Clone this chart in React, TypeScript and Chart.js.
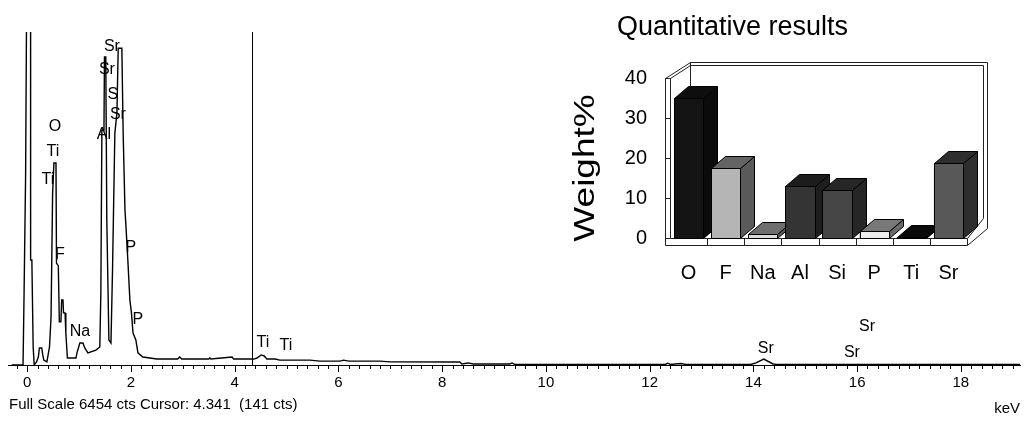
import { useEffect, useRef } from 'react';
import { Chart, registerables } from 'chart.js';

Chart.register(...registerables);

const FONT = '"Liberation Sans", Arial, sans-serif';

// ---- EDS spectrum ----
const FULL_SCALE = 6454;
const CURSOR_KEV = 4.341;
const CURSOR_CTS = 141;
const ENERGY_MIN = -0.37;
const ENERGY_MAX = 19.14;

// channel energies (keV) and counts of the traced spectrum
const spectrumKeV = [
  -0.3, -0.08, -0.06, -0.03, 0.0, 0.065, 0.066, 0.09, 0.115, 0.135,
  0.18, 0.215, 0.235, 0.28, 0.3, 0.32, 0.38, 0.43, 0.46, 0.49,
  0.515, 0.555, 0.565, 0.6, 0.62, 0.65, 0.665, 0.69, 0.7, 0.73,
  0.745, 0.775, 0.94, 0.96, 1.015, 1.075, 1.11, 1.17, 1.325, 1.4,
  1.42, 1.44, 1.48, 1.49, 1.515, 1.535, 1.575, 1.615, 1.645, 1.69,
  1.73, 1.755, 1.825, 1.85, 1.885, 1.905, 1.94, 1.98, 2.01, 2.04,
  2.095, 2.135, 2.23, 2.5, 2.9, 2.94, 2.98, 3.5, 3.52, 3.54,
  3.95, 3.98, 4.37, 4.43, 4.51, 4.57, 4.62, 4.78, 4.87, 5.45,
  5.64, 6.03, 6.1, 6.2, 6.8, 7.0, 8.34, 8.38, 8.5, 8.6,
  9.3, 9.35, 9.4, 12.3, 12.35, 12.4, 12.6, 12.7, 13.95, 14.05,
  14.2, 14.38, 14.45, 19.14,
];
const spectrumCounts = [
  0, 0, 1395, 3720, 9000, 9000, 2035, 2035, 350, 0,
  60, 155, 330, 330, 195, 95, 60, 350, 930, 3330,
  3915, 3915, 1975, 1920, 835, 835, 1260, 1260, 1010, 1010,
  620, 135, 135, 235, 425, 425, 330, 235, 290, 350,
  1395, 4555, 4555, 5970, 5970, 2810, 485, 425, 1840, 4495,
  4885, 6140, 6140, 4495, 3005, 2675, 2035, 1260, 1010, 620,
  485, 235, 155, 115, 115, 155, 115, 115, 140, 115,
  155, 115, 115, 135, 195, 175, 115, 115, 95, 95,
  75, 75, 95, 75, 75, 60, 58, 20, 40, 20,
  20, 40, 10, 10, 35, 10, 30, 10, 10, 40,
  115, 20, 10, 10,
];

// element markers on the spectrum
const peakNames = ['Sr', 'Sr', 'S', 'Sr', 'Al', 'O', 'Ti', 'Ti', 'F', 'P', 'Na', 'P', 'Ti', 'Ti', 'Sr', 'Sr', 'Sr'];
const peakKeV = [1.633, 1.537, 1.652, 1.749, 1.479, 0.534, 0.495, 0.399, 0.63, 2.0, 1.016, 2.134, 4.544, 4.987, 14.24, 15.9, 16.19];
const peakCounts = [6163, 5718, 5233, 4845, 4458, 4613, 4128, 3586, 2132, 2268, 640, 872, 426, 368, 310, 233, 737];

// energy axis: minor marks every 0.2 keV, labelled every 2 keV
const energyTicks = Array.from({ length: 97 }, (_, i) => (i - 1) * 2 / 10);
const isLabelledEnergy = (v: number) => Math.abs(v / 2 - Math.round(v / 2)) < 1e-6;

// ---- quantitative results ----
const elements = ['O', 'F', 'Na', 'Al', 'Si', 'P', 'Ti', 'Sr'];
const weightPercent = [34.9, 17.6, 0.9, 13.0, 12.0, 1.7, 0.3, 18.7];
const frontColors = ['#141414', '#b5b5b5', '#dcdcdc', '#343434', '#464646', '#ececec', '#000000', '#585858'];
const topColors = ['#0e0e0e', '#646464', '#6e6e6e', '#1c1c1c', '#262626', '#787878', '#0a0a0a', '#2e2e2e'];
const sideColors = ['#0b0b0b', '#5a5a5a', '#5a5a5a', '#1e1e1e', '#262626', '#6a6a6a', '#050505', '#2e2e2e'];
const weightTicks = [0, 10, 20, 30, 40];

const INSET_LEFT = 560;
const INSET_W = 471;
const INSET_H = 300;
const BOX_DEPTH = { dx: 20, dy: -16 };
const BAR_DEPTH = { dx: 14, dy: -12 };

const spectrumDecor = {
  id: 'spectrumDecor',
  afterDraw(chart: any) {
    const { ctx, chartArea: ca } = chart;
    const x = chart.scales.x;
    const y = chart.scales.y;
    ctx.save();
    ctx.strokeStyle = '#000';
    ctx.lineWidth = 1;
    for (const t of x.ticks) {
      const px = Math.round(x.getPixelForValue(t.value)) + 0.5;
      const len = isLabelledEnergy(t.value) ? 7 : 4;
      ctx.beginPath();
      ctx.moveTo(px, ca.bottom);
      ctx.lineTo(px, ca.bottom + len);
      ctx.stroke();
    }
    const cx = Math.round(x.getPixelForValue(CURSOR_KEV)) + 0.5;
    ctx.beginPath();
    ctx.moveTo(cx, ca.top);
    ctx.lineTo(cx, ca.bottom);
    ctx.stroke();

    ctx.fillStyle = '#000';
    ctx.font = `16px ${FONT}`;
    ctx.textAlign = 'center';
    ctx.textBaseline = 'middle';
    peakNames.forEach((n, i) => {
      ctx.fillText(n, x.getPixelForValue(peakKeV[i]), y.getPixelForValue(peakCounts[i]));
    });

    ctx.font = `15px ${FONT}`;
    ctx.textAlign = 'left';
    ctx.fillText(`Full Scale ${FULL_SCALE} cts Cursor: ${CURSOR_KEV.toFixed(3)}  (${CURSOR_CTS} cts)`, 9, 405);
    ctx.textAlign = 'right';
    ctx.fillText('keV', 1020, 409);
    ctx.restore();
  },
};

function poly(ctx: CanvasRenderingContext2D, pts: number[][], fill: string | null) {
  ctx.beginPath();
  ctx.moveTo(pts[0][0], pts[0][1]);
  for (let i = 1; i < pts.length; i++) ctx.lineTo(pts[i][0], pts[i][1]);
  ctx.closePath();
  if (fill) {
    ctx.fillStyle = fill;
    ctx.fill();
  }
  ctx.stroke();
}

function line(ctx: CanvasRenderingContext2D, x1: number, y1: number, x2: number, y2: number) {
  ctx.beginPath();
  ctx.moveTo(x1, y1);
  ctx.lineTo(x2, y2);
  ctx.stroke();
}

const quantBox = {
  id: 'quantBox',
  beforeDatasetsDraw(chart: any) {
    const { ctx, chartArea: ca } = chart;
    const y = chart.scales.y;
    const L = Math.round(ca.left) + 0.5;
    const R = Math.round(ca.right) + 0.5;
    const T = Math.round(ca.top) + 0.5;
    const B = Math.round(ca.bottom) + 0.5;
    const { dx, dy } = BOX_DEPTH;
    const plank = 7;
    ctx.save();
    ctx.strokeStyle = '#222';
    ctx.lineWidth = 1;
    // back wall (double edge)
    line(ctx, L + dx, T + dy, R + dx, T + dy);
    line(ctx, L + dx, T + dy + 3, R + dx - 4, T + dy + 3);
    line(ctx, R + dx, T + dy, R + dx, B + dy + plank - 1);
    line(ctx, R + dx - 4, T + dy + 3, R + dx - 4, B + dy - 4);
    line(ctx, L + dx, T + dy, L + dx, B + dy);
    // left wall
    line(ctx, L - 5, T, L - 5, B + plank);
    line(ctx, L, T, L, B);
    line(ctx, L - 5, T, L, T);
    line(ctx, L - 5, T, L + dx, T + dy);
    line(ctx, L, T, L + dx, T + dy + 3);
    for (const v of weightTicks) {
      const py = Math.round(y.getPixelForValue(v)) + 0.5;
      line(ctx, L - 5, py, L, py);
    }
    // floor plank
    line(ctx, L, B, R, B);
    line(ctx, L - 5, B + plank, R, B + plank);
    const n = elements.length;
    for (let i = 1; i <= n; i++) {
      const px = Math.round(ca.left + ((ca.right - ca.left) * i) / n) + 0.5;
      line(ctx, px, B, px, B + plank);
    }
    line(ctx, R, B, R + dx - 4, B + dy - 4);
    line(ctx, R, B + plank, R + dx, B + dy + plank - 1);
    ctx.restore();
  },
  afterDatasetsDraw(chart: any) {
    const { ctx } = chart;
    const meta = chart.getDatasetMeta(0);
    const { dx, dy } = BAR_DEPTH;
    ctx.save();
    ctx.strokeStyle = '#000';
    ctx.lineWidth = 1;
    meta.data.forEach((bar: any, i: number) => {
      const p = bar.getProps(['x', 'y', 'base', 'width'], true);
      const l = Math.round(p.x - p.width / 2) + 0.5;
      const r = Math.round(p.x + p.width / 2) + 0.5;
      const t = Math.round(p.y) + 0.5;
      const b = Math.round(p.base) + 0.5;
      poly(ctx, [[r, t], [r + dx, t + dy], [r + dx, b + dy], [r, b]], sideColors[i]);
      poly(ctx, [[l, t], [r, t], [r + dx, t + dy], [l + dx, t + dy]], topColors[i]);
      poly(ctx, [[l, t], [r, t], [r, b], [l, b]], frontColors[i]);
    });
    ctx.restore();
  },
  afterDraw(chart: any) {
    const { ctx } = chart;
    ctx.save();
    ctx.fillStyle = '#000';
    ctx.textAlign = 'center';
    ctx.textBaseline = 'alphabetic';
    ctx.font = `27px ${FONT}`;
    ctx.fillText('Quantitative results', 732.5 - INSET_LEFT, 35);
    ctx.translate(586 - INSET_LEFT, 168);
    ctx.rotate(-Math.PI / 2);
    ctx.scale(1, 0.8);
    ctx.textBaseline = 'middle';
    ctx.font = `37px ${FONT}`;
    ctx.fillText('Weight%', 0, 0);
    ctx.restore();
  },
};

export default function App() {
  const specRef = useRef<HTMLCanvasElement>(null);
  const quantRef = useRef<HTMLCanvasElement>(null);

  useEffect(() => {
    const spectrum = new Chart(specRef.current!, {
      type: 'line',
      data: {
        datasets: [
          {
            data: spectrumKeV.map((k, i) => ({ x: k, y: spectrumCounts[i] })),
            borderColor: '#000',
            borderWidth: 1.4,
            pointRadius: 0,
            tension: 0,
            fill: false,
          },
        ],
      },
      options: {
        animation: false,
        responsive: false,
        maintainAspectRatio: false,
        layout: { padding: { left: 8, right: 11, top: 32, bottom: 0 } },
        plugins: { legend: { display: false }, tooltip: { enabled: false } },
        scales: {
          x: {
            type: 'linear',
            min: ENERGY_MIN,
            max: ENERGY_MAX,
            afterBuildTicks: (s: any) => {
              s.ticks = energyTicks.map((v) => ({ value: v }));
            },
            afterFit: (s: any) => {
              s.height = 67;
            },
            grid: { display: false, drawTicks: false },
            border: { display: true, color: '#000', width: 1 },
            ticks: {
              autoSkip: false,
              maxRotation: 0,
              padding: 9,
              color: '#000',
              font: { family: FONT, size: 15 },
              callback: (v: any) => (isLabelledEnergy(Number(v)) ? String(Math.round(Number(v))) : ''),
            },
          },
          y: { display: false, min: 0, max: FULL_SCALE },
        },
      },
      plugins: [spectrumDecor],
    } as any);

    const quant = new Chart(quantRef.current!, {
      type: 'bar',
      data: {
        labels: elements,
        datasets: [
          {
            data: weightPercent,
            backgroundColor: frontColors,
            borderColor: '#000',
            borderWidth: 1,
            barPercentage: 0.79,
            categoryPercentage: 1,
          },
        ],
      },
      options: {
        animation: false,
        responsive: false,
        maintainAspectRatio: false,
        layout: { padding: { left: 0, right: 64, top: 78, bottom: 0 } },
        plugins: { legend: { display: false }, tooltip: { enabled: false } },
        scales: {
          x: {
            afterFit: (s: any) => {
              s.height = 62;
            },
            grid: { display: false, drawTicks: false },
            border: { display: false },
            ticks: { padding: 23, color: '#000', font: { family: FONT, size: 20 } },
          },
          y: {
            min: 0,
            max: 40,
            afterFit: (s: any) => {
              s.width = 110;
            },
            afterBuildTicks: (s: any) => {
              s.ticks = weightTicks.map((v) => ({ value: v }));
            },
            grid: { display: false, drawTicks: false },
            border: { display: false },
            ticks: { padding: 23, color: '#000', font: { family: FONT, size: 20 } },
          },
        },
      },
      plugins: [quantBox],
    } as any);

    return () => {
      spectrum.destroy();
      quant.destroy();
    };
  }, []);

  return (
    <div style={{ position: 'absolute', left: 0, top: 0, width: 1031, height: 432, background: '#fff' }}>
      <canvas
        ref={specRef}
        width={1031}
        height={432}
        style={{ position: 'absolute', left: 0, top: 0, width: 1031, height: 432 }}
      />
      <canvas
        ref={quantRef}
        width={INSET_W}
        height={INSET_H}
        style={{ position: 'absolute', left: INSET_LEFT, top: 0, width: INSET_W, height: INSET_H }}
      />
    </div>
  );
}
